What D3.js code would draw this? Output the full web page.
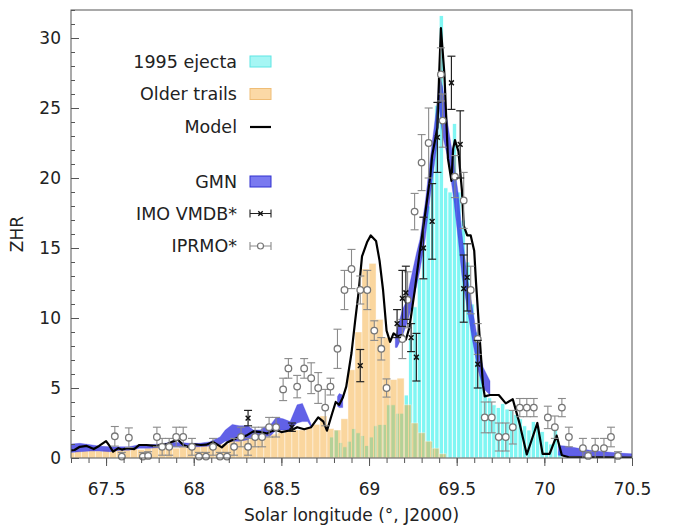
<!DOCTYPE html>
<html>
<head>
<meta charset="utf-8">
<script src="https://cdn.jsdelivr.net/npm/d3@7"></script>
<style>
  html, body { margin: 0; padding: 0; background: #fff; }
  svg { display: block; font-family: "DejaVu Sans", sans-serif; }
</style>
</head>
<body>
<div id="chart"></div>
<script>
const X_DOMAIN = [67.3, 70.5];
const Y_DOMAIN = [0, 32];
const X_TICKS = [67.5, 68, 68.5, 69, 69.5, 70, 70.5];
const Y_TICKS = [0, 5, 10, 15, 20, 25, 30];
const LEGEND_LABELS = ['1995 ejecta', 'Older trails', 'Model', 'GMN', 'IMO VMDB*', 'IPRMO*'];

// older trails histogram (bin start, width 0.04)
const OLDER_BIN_WIDTH = 0.04;
const OLDER_BIN_START = [
  67.28, 67.32, 67.36, 67.40, 67.44, 67.48, 67.52, 67.56, 67.60, 67.64,
  67.68, 67.72, 67.76, 67.80, 67.84, 67.88, 67.92, 67.96, 68.00, 68.04,
  68.08, 68.12, 68.16, 68.20, 68.24, 68.28, 68.32, 68.36, 68.40, 68.44,
  68.48, 68.52, 68.56, 68.60, 68.64, 68.68, 68.72, 68.76, 68.80, 68.84,
  68.88, 68.92, 68.96, 69.00, 69.04, 69.08, 69.12, 69.16, 69.20, 69.24,
  69.28, 69.32, 69.36, 69.40];
const OLDER_ZHR = [
  0.4, 0.5, 0.5, 0.6, 0.5, 0.6, 0.7, 0.6, 0.6, 0.7,
  0.6, 0.7, 0.8, 0.7, 0.8, 0.7, 0.8, 0.9, 0.9, 1.0,
  1.0, 1.1, 1.0, 1.2, 1.2, 1.3, 1.4, 1.5, 1.5, 1.7,
  1.8, 1.9, 2.0, 2.0, 2.2, 2.4, 3.0, 2.1, 2.0, 2.8,
  6.3, 9.0, 13.5, 13.9, 9.9, 8.6, 5.6, 5.7, 3.8, 2.5,
  1.8, 1.2, 0.7, 0.3];

// 1995 ejecta histogram (bin start, width 0.025)
const EJECTA_BIN_WIDTH = 0.025;
const EJECTA_BIN_START = [
  68.775, 68.800, 68.825, 68.850, 68.875, 68.900, 68.925, 68.950, 68.975, 69.000,
  69.025, 69.050, 69.075, 69.100, 69.125, 69.150, 69.175, 69.200, 69.225, 69.250,
  69.275, 69.300, 69.325, 69.350, 69.375, 69.400, 69.425, 69.450, 69.475, 69.500,
  69.525, 69.550, 69.575, 69.600, 69.625, 69.650, 69.675, 69.700, 69.725, 69.750,
  69.775, 69.800, 69.825, 69.850, 69.875, 69.900, 69.925, 69.950, 69.975, 70.000,
  70.025, 70.050, 70.075];
const EJECTA_ZHR = [
  1.5, 2.0, 1.1, 0.8, 1.2, 2.1, 1.8, 1.6, 0.9, 1.5,
  2.3, 2.4, 2.4, 3.8, 3.8, 3.2, 3.2, 4.5, 8.5, 10.8,
  12.8, 15.2, 18.0, 21.4, 25.2, 31.6, 19.3, 19.0, 23.9, 19.0,
  17.0, 14.0, 11.0, 9.0, 6.0, 4.5, 4.3, 3.8, 3.6, 3.9,
  3.5, 3.4, 3.1, 2.8, 2.3, 2.0, 2.6, 2.3, 1.9, 1.2,
  1.0, 2.1, 0.5];

// model curve
const MODEL_LON = [
  67.30, 67.32, 67.35, 67.39, 67.43, 67.46, 67.50, 67.52, 67.54, 67.57,
  67.59, 67.62, 67.66, 67.69, 67.73, 67.78, 67.81, 67.85, 67.88, 67.91,
  67.94, 67.97, 67.99, 68.04, 68.07, 68.11, 68.16, 68.19, 68.25, 68.30,
  68.34, 68.38, 68.42, 68.44, 68.47, 68.50, 68.56, 68.59, 68.63, 68.67,
  68.71, 68.74, 68.76, 68.79, 68.81, 68.83, 68.85, 68.87, 68.90, 68.92,
  68.94, 68.96, 68.99, 69.01, 69.04, 69.06, 69.08, 69.10, 69.12, 69.14,
  69.16, 69.19, 69.21, 69.23, 69.26, 69.29, 69.32, 69.35, 69.36, 69.39,
  69.40, 69.41, 69.43, 69.45, 69.47, 69.48, 69.49, 69.51, 69.53, 69.54,
  69.56, 69.58, 69.60, 69.61, 69.63, 69.65, 69.66, 69.69, 69.74, 69.78,
  69.82, 69.86, 69.90, 69.96, 69.99, 70.03, 70.07, 70.10, 70.14, 70.32,
  70.50];
const MODEL_ZHR = [
  0.55, 0.57, 0.80, 0.86, 0.64, 0.86, 1.20, 0.86, 0.45, 0.70,
  0.60, 0.70, 0.64, 0.93, 0.93, 0.86, 0.93, 1.00, 1.17, 1.30,
  0.93, 0.79, 1.00, 0.93, 0.95, 1.15, 0.76, 1.10, 1.45, 1.60,
  1.90, 1.85, 1.75, 1.90, 2.00, 1.85, 2.00, 2.20, 2.05, 2.20,
  2.90, 2.60, 1.95, 3.20, 4.00, 3.80, 4.30, 5.10, 7.50, 9.70,
  11.8, 14.4, 15.45, 15.9, 15.5, 14.1, 12.0, 9.1, 8.3, 8.9,
  8.7, 8.8, 8.45, 9.3, 11.9, 14.8, 17.4, 20.2, 21.6, 23.6,
  27.4, 30.7, 27.4, 21.4, 19.8, 22.1, 22.7, 21.9, 19.1, 16.6,
  15.9, 15.9, 14.8, 12.6, 8.8, 5.2, 4.4, 4.5, 4.5, 3.9,
  4.2, 2.4, 0.25, 2.5, 0.3, 0.3, 1.6, 0.2, 0.05, 0.04,
  0.03];

// GMN band (null = gap)
const GMN_LON = [
  67.30, 67.35, 67.41, 67.46, 67.52, 67.58, 67.63, 67.69, 67.75, 67.81,
  67.86, 67.92, 67.98, 68.03, 68.09, 68.15, 68.18, 68.22, 68.26, 68.31,
  68.34, 68.38, 68.40, 68.44, 68.47, 68.51, 68.55, 68.59, 68.62, 68.65,
  68.67, null, 68.82, 68.83, 68.85, null,
  69.15, 69.16, 69.19, 69.21, 69.23, 69.27, 69.29, 69.32, 69.35, 69.39,
  69.40, 69.42, 69.45, 69.48, 69.51, 69.53, 69.56, 69.59, 69.62, 69.65,
  69.69, null, 70.08, 70.12, 70.17, 70.26, 70.34, 70.43, 70.50];
const GMN_LOW = [
  0.4, 0.45, 0.5, 0.5, 0.45, 0.55, 0.55, 0.7, 0.7, 0.75,
  0.8, 0.8, 0.8, 0.8, 0.85, 0.95, 1.2, 1.2, 1.2, 1.3,
  1.6, 1.6, 1.5, 1.6, 2.0, 2.0, 2.0, 2.5, 2.6, 2.6,
  2.2, null, 3.7, 3.6, 3.6, null,
  7.9, 7.9, 8.7, 9.4, 10.2, 12.2, 13.4, 15.6, 18.8, 22.6,
  25.0, 23.0, 21.4, 18.8, 15.5, 13.0, 10.7, 8.4, 6.4, 5.0,
  4.5, null, 0.2, 0.15, 0.15, 0.12, 0.1, 0.1, 0.1];
const GMN_HIGH = [
  1.0, 1.05, 0.95, 0.85, 0.8, 0.8, 0.8, 0.95, 0.95, 1.0,
  1.1, 1.1, 1.05, 1.05, 1.15, 1.5, 2.0, 2.4, 2.3, 2.3,
  2.0, 2.0, 2.2, 2.4, 2.9, 2.8, 2.6, 3.8, 3.9, 3.0,
  2.4, null, 4.4, 4.6, 4.5, null,
  8.6, 9.1, 10.6, 11.1, 12.3, 14.6, 15.6, 18.2, 21.5, 25.5,
  27.4, 26.5, 23.8, 21.4, 18.8, 16.0, 13.0, 10.7, 8.4, 6.5,
  5.5, null, 0.9, 0.85, 0.75, 0.55, 0.45, 0.35, 0.3];

// IMO VMDB
const IMO_LON = [68.31, 68.56, 68.95, 69.16, 69.19, 69.21, 69.24, 69.27, 69.31, 69.36,
  69.39, 69.47, 69.52, 69.54, 69.56, 69.62];
const IMO_ZHR = [2.85, 2.2, 6.6, 9.6, 11.4, 11.8, 8.6, 7.2, 15.0, 16.9,
  22.9, 26.8, 22.4, 12.1, 12.9, 6.7];
const IMO_ERR = [0.55, 0.3, 1.15, 1.0, 2.0, 1.9, 1.0, 1.7, 2.2, 2.7,
  2.5, 1.9, 2.4, 2.4, 2.4, 1.7];

// IPRMO
const IPRMO_LON = [
  67.55, 67.59, 67.63, 67.71, 67.74, 67.79, 67.82, 67.86, 67.90, 67.94,
  67.99, 68.03, 68.07, 68.11, 68.15, 68.19, 68.23, 68.27, 68.31, 68.35,
  68.39, 68.43, 68.47, 68.51, 68.54, 68.59, 68.63, 68.67, 68.71, 68.75,
  68.78, 68.82, 68.86, 68.90, 68.95, 68.99, 69.03, 69.07, 69.10, 69.19,
  69.22, 69.26, 69.30, 69.34, 69.41, 69.42, 69.49, 69.54, 69.58, 69.62,
  69.66, 69.70, 69.74, 69.78, 69.82, 69.86, 69.90, 69.94, 70.02, 70.06,
  70.10, 70.14, 70.22, 70.25, 70.29, 70.34, 70.38, 70.42];
const IPRMO_ZHR = [
  1.55, 0.1, 1.45, 0.1, 0.15, 1.5, 0.8, 0.8, 1.5, 1.5,
  0.8, 0.1, 0.1, 0.8, 0.1, 0.1, 0.8, 1.5, 0.8, 1.5,
  1.5, 2.2, 2.2, 4.9, 6.4, 5.1, 6.4, 5.7, 5.0, 3.6,
  5.1, 7.8, 12.0, 13.5, 12.0, 12.0, 9.1, 7.8, 5.0, 8.5,
  11.3, 17.6, 21.1, 22.5, 27.4, 24.1, 20.1, 18.4, 12.0, 8.5,
  2.9, 2.9, 1.5, 1.5, 2.2, 3.6, 3.6, 3.6, 2.9, 2.2,
  3.6, 1.5, 0.7, 0.15, 0.7, 0.7, 1.5, 0.15];
const IPRMO_ERR = [
  0.7, 0.3, 0.7, 0.3, 0.3, 0.7, 0.6, 0.6, 0.7, 0.7,
  0.6, 0.3, 0.3, 0.6, 0.3, 0.3, 0.6, 0.7, 0.6, 0.7,
  0.7, 0.7, 0.7, 0.8, 0.7, 0.8, 0.7, 1.1, 1.1, 1.3,
  0.6, 1.4, 1.4, 1.4, 1.0, 1.4, 0.7, 0.8, 0.65, 1.4,
  2.0, 1.3, 2.0, 2.5, 1.9, 1.9, 1.5, 2.0, 1.7, 1.1,
  1.1, 1.1, 1.0, 1.0, 1.2, 0.65, 0.65, 0.65, 0.8, 0.8,
  0.65, 0.7, 0.7, 0.3, 0.7, 0.7, 0.7, 0.3];

const CYAN = '#80f6f3';
const ORANGE = 'rgb(245,165,40)';
const BLUE = '#3535e0';
const FONT = 17;

const W = 680, H = 527;
const L = 71, R = 632, T = 10, B = 458;

const svg = d3.select('#chart').append('svg')
  .attr('width', W).attr('height', H)
  .attr('viewBox', `0 0 ${W} ${H}`);

const x = d3.scaleLinear().domain(X_DOMAIN).range([L, R]);
const y = d3.scaleLinear().domain(Y_DOMAIN).range([B, T]);

svg.append('clipPath').attr('id', 'plot')
  .append('rect').attr('x', L).attr('y', T).attr('width', R - L).attr('height', B - T);

const plot = svg.append('g').attr('clip-path', 'url(#plot)');

// bars
const ejecta = EJECTA_BIN_START.map((s, i) => ({ s, v: EJECTA_ZHR[i] }));
plot.append('g').selectAll('rect').data(ejecta).join('rect')
  .attr('x', d => x(d.s))
  .attr('width', d => x(d.s + EJECTA_BIN_WIDTH) - x(d.s))
  .attr('y', d => y(d.v))
  .attr('height', d => y(0) - y(d.v))
  .attr('fill', CYAN)
  .attr('stroke', '#fff').attr('stroke-width', 0.8);

const older = OLDER_BIN_START.map((s, i) => ({ s, v: OLDER_ZHR[i] }));
plot.append('g').selectAll('rect').data(older).join('rect')
  .attr('x', d => x(d.s))
  .attr('width', d => x(d.s + OLDER_BIN_WIDTH) - x(d.s))
  .attr('y', d => y(d.v))
  .attr('height', d => y(0) - y(d.v))
  .attr('fill', ORANGE).attr('fill-opacity', 0.45)
  .attr('stroke', '#fff').attr('stroke-opacity', 0.5).attr('stroke-width', 0.8);

// GMN band
const gmn = GMN_LON.map((lon, i) => ({ lon, lo: GMN_LOW[i], hi: GMN_HIGH[i] }));
plot.append('path')
  .datum(gmn)
  .attr('fill', BLUE).attr('fill-opacity', 0.78)
  .attr('stroke', BLUE).attr('stroke-opacity', 0.5).attr('stroke-width', 0.6)
  .attr('d', d3.area()
    .defined(d => d.lon != null)
    .x(d => x(d.lon)).y0(d => y(d.lo)).y1(d => y(d.hi)));

// model
plot.append('path')
  .datum(MODEL_LON.map((lon, i) => ({ lon, v: MODEL_ZHR[i] })))
  .attr('fill', 'none')
  .attr('stroke', '#000').attr('stroke-width', 2.2)
  .attr('stroke-linejoin', 'round')
  .attr('d', d3.line().x(d => x(d.lon)).y(d => y(d.v)));

// error bars helper
function errorBars(g, data, color, width) {
  g.selectAll('line.v').data(data).join('line').attr('class', 'v')
    .attr('x1', d => x(d.lon)).attr('x2', d => x(d.lon))
    .attr('y1', d => y(Math.max(0, d.v - d.e))).attr('y2', d => y(d.v + d.e))
    .attr('stroke', color).attr('stroke-width', width);
  g.selectAll('line.t').data(data).join('line').attr('class', 't')
    .attr('x1', d => x(d.lon) - 4).attr('x2', d => x(d.lon) + 4)
    .attr('y1', d => y(d.v + d.e)).attr('y2', d => y(d.v + d.e))
    .attr('stroke', color).attr('stroke-width', width);
  g.selectAll('line.b').data(data.filter(d => d.v - d.e > 0)).join('line').attr('class', 'b')
    .attr('x1', d => x(d.lon) - 4).attr('x2', d => x(d.lon) + 4)
    .attr('y1', d => y(d.v - d.e)).attr('y2', d => y(d.v - d.e))
    .attr('stroke', color).attr('stroke-width', width);
}

// IPRMO
const iprmo = IPRMO_LON.map((lon, i) => ({ lon, v: IPRMO_ZHR[i], e: IPRMO_ERR[i] }));
const gi = svg.append('g');
errorBars(gi, iprmo, '#8a8a8a', 1.1);
gi.selectAll('circle').data(iprmo).join('circle')
  .attr('cx', d => x(d.lon)).attr('cy', d => y(d.v)).attr('r', 3.3)
  .attr('fill', '#fff').attr('stroke', '#777').attr('stroke-width', 1.3);

// IMO VMDB
const imo = IMO_LON.map((lon, i) => ({ lon, v: IMO_ZHR[i], e: IMO_ERR[i] }));
const gm = svg.append('g');
errorBars(gm, imo, '#222', 1.2);
gm.selectAll('path.m').data(imo).join('path').attr('class', 'm')
  .attr('d', d => {
    const cx = x(d.lon), cy = y(d.v), s = 2.4;
    return `M${cx - s},${cy - s}L${cx + s},${cy + s}M${cx - s},${cy + s}L${cx + s},${cy - s}`;
  })
  .attr('stroke', '#111').attr('stroke-width', 1.5);

// frame
svg.append('rect')
  .attr('x', L).attr('y', T).attr('width', R - L).attr('height', B - T)
  .attr('fill', 'none').attr('stroke', '#555').attr('stroke-width', 1);

// y axis (ticks inward)
const yMinor = svg.append('g').attr('transform', `translate(${L},0)`)
  .call(d3.axisLeft(y).tickValues(d3.range(0, 33)).tickSize(-4).tickFormat(''));
const yMajor = svg.append('g').attr('transform', `translate(${L},0)`)
  .call(d3.axisLeft(y).tickValues(Y_TICKS).tickSize(-8).tickPadding(10));
[yMinor, yMajor].forEach(g => {
  g.select('.domain').remove();
  g.selectAll('line').attr('stroke', '#555');
});
yMajor.selectAll('text').attr('font-size', FONT).attr('fill', '#222')
  .attr('font-family', '"DejaVu Sans", sans-serif');

// x axis (ticks outward)
const xMinor = svg.append('g').attr('transform', `translate(0,${B})`)
  .call(d3.axisBottom(x).tickValues(d3.range(67.3, 70.55, 0.1)).tickSize(5).tickFormat(''));
const xMajor = svg.append('g').attr('transform', `translate(0,${B})`)
  .call(d3.axisBottom(x).tickValues(X_TICKS).tickSize(8).tickPadding(17)
    .tickFormat(d3.format('')));
[xMinor, xMajor].forEach(g => {
  g.select('.domain').remove();
  g.selectAll('line').attr('stroke', '#555');
});
xMajor.selectAll('text').attr('font-size', FONT).attr('fill', '#222')
  .attr('font-family', '"DejaVu Sans", sans-serif');

// axis titles
svg.append('text')
  .attr('x', (L + R) / 2).attr('y', 521)
  .attr('text-anchor', 'middle').attr('font-size', FONT).attr('fill', '#222')
  .text('Solar longitude (°, J2000)');
svg.append('text')
  .attr('transform', `translate(23,${(T + B) / 2}) rotate(-90)`)
  .attr('text-anchor', 'middle').attr('font-size', FONT).attr('fill', '#222')
  .text('ZHR');

// legend
const LEG_Y = [61.5, 94, 127, 181.5, 213.5, 246];
const lg = svg.append('g');
LEGEND_LABELS.forEach((lab, i) => {
  lg.append('text')
    .attr('x', 237).attr('y', LEG_Y[i]).attr('dy', '0.35em')
    .attr('text-anchor', 'end').attr('font-size', 17.5).attr('fill', '#222')
    .text(lab);
});
const sx0 = 250, sx1 = 271, sh = 11;
[[0, '#a6f6f4', '#5ee6e3'], [1, '#fbd9a6', '#efbd76'], [3, '#7a7af0', '#3030d0']].forEach(([i, f, s]) => {
  lg.append('rect')
    .attr('x', sx0).attr('y', LEG_Y[i] - sh / 2).attr('width', sx1 - sx0).attr('height', sh)
    .attr('fill', f).attr('stroke', s).attr('stroke-width', 1);
});
lg.append('line')
  .attr('x1', sx0).attr('x2', sx1).attr('y1', LEG_Y[2]).attr('y2', LEG_Y[2])
  .attr('stroke', '#000').attr('stroke-width', 2.2);
[[4, '#222'], [5, '#8a8a8a']].forEach(([i, c]) => {
  const yy = LEG_Y[i];
  lg.append('path')
    .attr('d', `M${sx0},${yy}H${sx1}M${sx0},${yy - 4}V${yy + 4}M${sx1},${yy - 4}V${yy + 4}`)
    .attr('stroke', c).attr('stroke-width', 1.1).attr('fill', 'none');
});
{
  const cx = (sx0 + sx1) / 2, cy = LEG_Y[4], s = 2.2;
  lg.append('path')
    .attr('d', `M${cx - s},${cy - s}L${cx + s},${cy + s}M${cx - s},${cy + s}L${cx + s},${cy - s}`)
    .attr('stroke', '#111').attr('stroke-width', 1.4);
  lg.append('circle')
    .attr('cx', cx).attr('cy', LEG_Y[5]).attr('r', 3)
    .attr('fill', '#fff').attr('stroke', '#777').attr('stroke-width', 1.2);
}
</script>
</body>
</html>
